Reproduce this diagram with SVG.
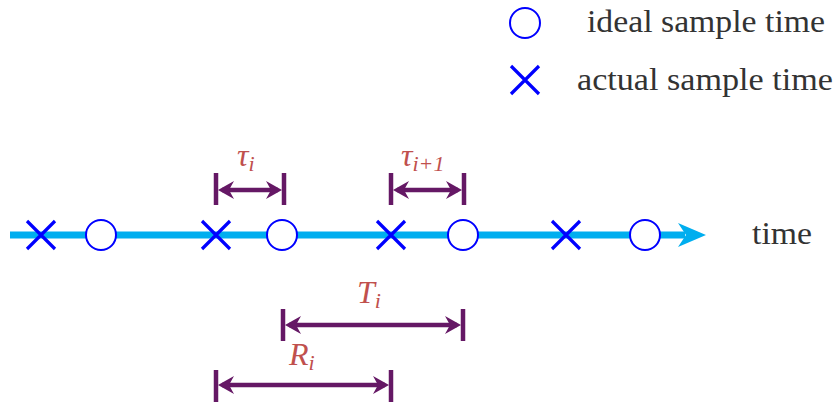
<svg xmlns="http://www.w3.org/2000/svg" width="838" height="402" viewBox="0 0 838 402">
<style>
.axis{stroke:#00aeef;stroke-width:7;fill:none}
.circ{fill:#fff;stroke:#0000ff;stroke-width:2}
.cross{stroke:#0000ff;stroke-width:3.2;fill:none}
.dim{stroke:#651865;stroke-width:4.5;fill:none}
.tick{stroke:#651865;stroke-width:4.5;fill:none}
.head{fill:#651865;stroke:none}
.txt{font-family:"Liberation Serif",serif;fill:#333;font-size:31px}
.lbl{font-family:"Liberation Serif",serif;fill:#c0504d;font-style:italic;font-size:32px}
.sub{font-size:22px}
</style>
<defs>
<path id="ah" d="M0,0 L-16,-9 L-11,0 L-16,9 Z"/>
</defs>
<g id="legend">
<g id="legend-ideal"><circle class="circ" cx="525" cy="23" r="15"/><text class="txt" x="587" y="32" textLength="238" lengthAdjust="spacingAndGlyphs">ideal sample time</text></g>
<g id="legend-actual"><path class="cross" d="M511,66 L539,94 M539,66 L511,94"/><text class="txt" x="577" y="90" textLength="256" lengthAdjust="spacingAndGlyphs">actual sample time</text></g>
</g>
<g id="connectors">
<g id="axis"><line class="axis" x1="10" y1="235" x2="685" y2="235"/><path d="M706,235 L678,223 L686,235 L678,247 Z" fill="#00aeef"/></g>
<g id="dim-tau-i"><line class="tick" x1="216" y1="173" x2="216" y2="205"/><line class="tick" x1="284" y1="173" x2="284" y2="205"/><line class="dim" x1="222" y1="190" x2="278" y2="190"/><use href="#ah" class="head" transform="translate(282,190)"/><use href="#ah" class="head" transform="translate(218,190) rotate(180)"/></g>
<g id="dim-tau-i1"><line class="tick" x1="391" y1="173" x2="391" y2="205"/><line class="tick" x1="464" y1="173" x2="464" y2="205"/><line class="dim" x1="397" y1="190" x2="458" y2="190"/><use href="#ah" class="head" transform="translate(462,190)"/><use href="#ah" class="head" transform="translate(393,190) rotate(180)"/></g>
<g id="dim-T"><line class="tick" x1="283" y1="309" x2="283" y2="341"/><line class="tick" x1="463" y1="309" x2="463" y2="341"/><line class="dim" x1="289" y1="325" x2="457" y2="325"/><use href="#ah" class="head" transform="translate(461,325)"/><use href="#ah" class="head" transform="translate(285,325) rotate(180)"/></g>
<g id="dim-R"><line class="tick" x1="216" y1="370" x2="216" y2="402"/><line class="tick" x1="391" y1="370" x2="391" y2="402"/><line class="dim" x1="222" y1="385" x2="385" y2="385"/><use href="#ah" class="head" transform="translate(389,385)"/><use href="#ah" class="head" transform="translate(218,385) rotate(180)"/></g>
</g>
<g id="samples">
<g id="x1"><path class="cross" d="M27,221 L55,249 M55,221 L27,249"/></g>
<g id="o1"><circle class="circ" cx="101" cy="235" r="15"/></g>
<g id="x2"><path class="cross" d="M202,221 L230,249 M230,221 L202,249"/></g>
<g id="o2"><circle class="circ" cx="282" cy="235" r="15"/></g>
<g id="x3"><path class="cross" d="M377,221 L405,249 M405,221 L377,249"/></g>
<g id="o3"><circle class="circ" cx="463" cy="235" r="15"/></g>
<g id="x4"><path class="cross" d="M552,221 L580,249 M580,221 L552,249"/></g>
<g id="o4"><circle class="circ" cx="645" cy="235" r="15"/></g>
</g>
<g id="labels">
<text class="txt" x="752" y="244" textLength="60" lengthAdjust="spacingAndGlyphs">time</text>
<text class="lbl" x="237" y="166">τ<tspan class="sub" dy="5">i</tspan></text>
<text class="lbl" x="401" y="166">τ<tspan class="sub" dy="5">i+1</tspan></text>
<text class="lbl" x="357" y="303">T<tspan class="sub" dy="5">i</tspan></text>
<text class="lbl" x="289" y="365">R<tspan class="sub" dy="5">i</tspan></text>
</g>
</svg>
